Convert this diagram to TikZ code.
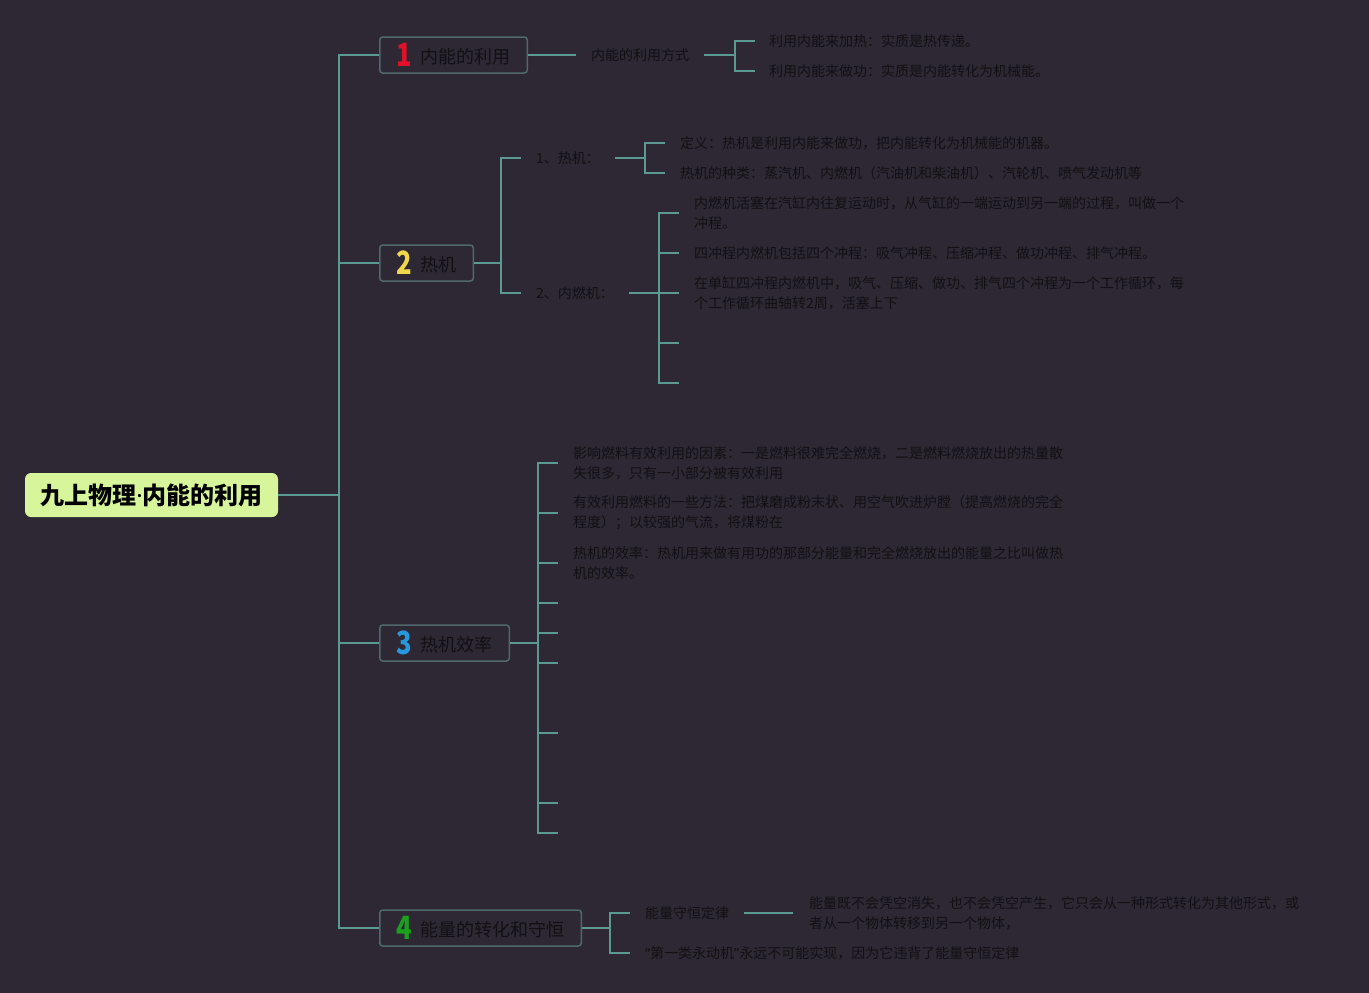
\documentclass[tikz,border=0pt]{standalone}
\usepackage{fontspec}
\usepackage{graphicx}
\setmainfont{Noto Sans CJK SC}
\newfontfamily\latinfont{Noto Sans}
\usetikzlibrary{positioning}

\definecolor{bgcol}{RGB}{45,40,51}
\definecolor{edgecol}{RGB}{91,154,147}
\definecolor{boxcol}{RGB}{78,106,108}
\definecolor{inkcol}{RGB}{18,16,20}
\definecolor{rootcol}{RGB}{215,245,155}
\definecolor{numred}{RGB}{226,16,40}
\definecolor{numyellow}{RGB}{240,216,74}
\definecolor{numblue}{RGB}{38,152,222}
\definecolor{numgreen}{RGB}{26,160,30}

\tikzset{
  root/.style={fill=rootcol, rounded corners=6pt, minimum width=253pt, minimum height=44pt,
    text=black, font=\fontsize{24}{26}\selectfont\bfseries},
  topic/.style={draw=boxcol, line width=1.5pt, rounded corners=3pt, anchor=west,
    minimum height=36pt, inner xsep=17pt, text=inkcol, font=\fontsize{18}{20}\selectfont},
  leaf/.style={anchor=west, inner xsep=15pt, inner ysep=0pt, align=left,
    text=inkcol, font=\fontsize{14}{20}\selectfont},
  link/.style={draw=edgecol, line width=2pt},
}
\newcommand{\topicnum}[2]{\raisebox{-3pt}{\textcolor{#1}{\scalebox{0.8}[1]{\fontsize{32}{32}\selectfont\bfseries #2}}}\hspace{8pt}}

\begin{document}
\begin{tikzpicture}[x=1pt,y=-1pt]
            % background and page size
            \fill[bgcol] (0,0) rectangle (1369,993);

            % root and trunk
            \node[root] (root) at (151.5,495) {九上物理{\latinfont\bfseries ·}内能的利用};
            \coordinate (trunk) at (339,495);
            \draw[link] (root.east) -- (trunk);

            % four topics
            \node[topic] (t1) at (379,55) {\topicnum{numred}{1}内能的利用};
            \node[topic] (t2) at (379,263) {\topicnum{numyellow}{2}热机};
            \node[topic] (t3) at (379,643) {\topicnum{numblue}{3}热机效率};
            \node[topic] (t4) at (379,928) {\topicnum{numgreen}{4}能量的转化和守恒};
            \foreach \t in {t1,t2,t3,t4}
                \draw[link] (trunk) |- (\t.west);

            % topic 1
            \node[leaf] (u1) at (576,55) {内能的利用方式};
            \draw[link] (t1.east) -- (u1.west);
            \coordinate (b1) at (735,55);
            \draw[link] (u1.east) -- (b1);
            \node[leaf, inner xsep=14pt] (u1a) at (755,41) {利用内能来加热：实质是热传递。};
            \node[leaf, inner xsep=14pt] (u1b) at (755,71) {利用内能来做功：实质是内能转化为机械能。};
            \foreach \n in {u1a,u1b}
                \draw[link] (b1) |- (\n.west);

            % topic 2
            \coordinate (b2) at (501,263);
            \draw[link] (t2.east) -- (b2);
            \node[leaf] (h1) at (521,158) {1、热机：};
            \node[leaf] (h2) at (521,293) {2、内燃机：};
            \draw[link] (b2) |- (h1.west);
            \draw[link] (b2) |- (h2.west);

            \coordinate (b21) at (645,158);
            \draw[link] (h1.east) -- (b21);
            \node[leaf] (h1a) at (665,143) {定义：热机是利用内能来做功，把内能转化为机械能的机器。};
            \node[leaf] (h1b) at (665,173) {热机的种类：蒸汽机、内燃机（汽油机和柴油机）、汽轮机、喷气发动机等};
            \foreach \n in {h1a,h1b}
                \draw[link] (b21) |- (\n.west);

            \coordinate (b22) at (659,293);
            \draw[link] (h2.east) -- (b22);
            \node[leaf] (h2a) at (679,213) {内燃机活塞在汽缸内往复运动时，从气缸的一端运动到另一端的过程，叫做一个\\冲程。};
            \node[leaf] (h2b) at (679,253) {四冲程内燃机包括四个冲程：吸气冲程、压缩冲程、做功冲程、排气冲程。};
            \node[leaf] (h2c) at (679,293) {在单缸四冲程内燃机中，吸气、压缩、做功、排气四个冲程为一个工作循环，每\\个工作循环曲轴转2周，活塞上下};
            \coordinate (h2d) at (679,343);
            \coordinate (h2e) at (679,383);
            \foreach \n in {h2a.west,h2b.west,h2c.west,h2d,h2e}
                \draw[link] (b22) |- (\n);

            % topic 3
            \coordinate (b3) at (538,643);
            \draw[link] (t3.east) -- (b3);
            \node[leaf] (e1) at (558,463) {影响燃料有效利用的因素：一是燃料很难完全燃烧，二是燃料燃烧放出的热量散\\失很多，只有一小部分被有效利用};
            \node[leaf] (e2) at (558,513) {有效利用燃料的一些方法：把煤磨成粉末状、用空气吹进炉膛（提高燃烧的完全\\程度）；以较强的气流，将煤粉在};
            \node[leaf] (e3) at (558,563) {热机的效率：热机用来做有用功的那部分能量和完全燃烧放出的能量之比叫做热\\机的效率。};
            \foreach \n in {e1,e2,e3}
                \draw[link] (b3) |- (\n.west);
            % empty branches
            \foreach \y [count=\i] in {603,633,663,733,803,833} {
                \coordinate (f\i) at (558,\y);
                \draw[link] (b3) |- (f\i);
            }

            % topic 4
            \coordinate (b4) at (610,928);
            \draw[link] (t4.east) -- (b4);
            \node[leaf] (c1) at (630,913) {能量守恒定律};
            \node[leaf] (c2) at (630,953) {{\latinfont “}第一类永动机{\latinfont ”}永远不可能实现，因为它违背了能量守恒定律};
            \draw[link] (b4) |- (c1.west);
            \draw[link] (b4) |- (c2.west);
            \node[leaf, inner xsep=16pt] (c1a) at (793,913) {能量既不会凭空消失，也不会凭空产生，它只会从一种形式转化为其他形式，或\\者从一个物体转移到另一个物体，};
            \draw[link] (c1.east) -- (c1a.west);
        \end{tikzpicture}
\end{document}
